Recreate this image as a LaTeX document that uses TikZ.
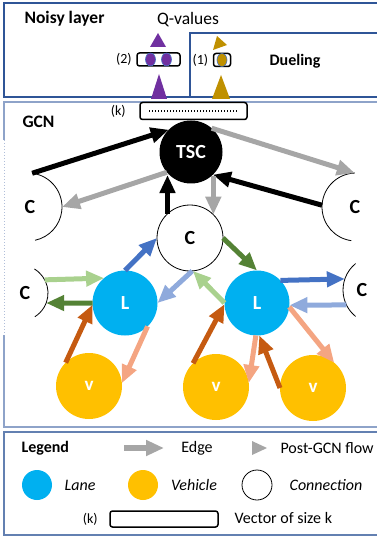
\documentclass[tikz,border=0pt]{standalone}
\usepackage{fontspec}
\setmainfont{Carlito}
\usepackage{tikz}
\usetikzlibrary{arrows.meta,calc,positioning}
\usepackage[dvipsnames]{xcolor}
\definecolor{frameblue}{HTML}{2F5597}
\definecolor{gcnblue}{HTML}{8EA3C9}
\definecolor{lanecol}{HTML}{00B0F0}
\definecolor{vehcol}{HTML}{FFC000}
\definecolor{edgegray}{HTML}{A6A6A6}
\definecolor{dblue}{HTML}{4472C4}
\definecolor{lblue}{HTML}{8FAADC}
\definecolor{dgreen}{HTML}{548235}
\definecolor{lgreen}{HTML}{A9D18E}
\definecolor{dorange}{HTML}{C55A11}
\definecolor{lorange}{HTML}{F4A582}
\definecolor{qpurple}{HTML}{7030A0}
\definecolor{qgold}{HTML}{BF9000}
\newcommand{\fsNode}{\fontsize{20}{22}\selectfont}
\newcommand{\fsBig}{\fontsize{17.5}{20}\selectfont}
\newcommand{\fsMid}{\fontsize{16}{19}\selectfont}
\newcommand{\fsSmall}{\fontsize{14}{16}\selectfont}

\begin{document}
\begin{tikzpicture}[x=1pt,y=-1pt,
    gnode/.style={circle,inner sep=0pt,outer sep=0pt,minimum size=65pt,font=\fsNode\bfseries},
    lane/.style={gnode,fill=lanecol,text=white},
    veh/.style={gnode,fill=vehcol,text=white,minimum size=66pt,font=\fontsize{19}{21}\selectfont\bfseries},
    conn/.style={gnode,draw,line width=0.8pt},
    part/.style={circle,inner sep=0pt,outer sep=0pt},
    ctext/.style={font=\fsNode\bfseries},
    flow/.style={line width=5pt,-{Triangle[length=18pt,width=15pt]}},
    vecbox/.style={draw,rounded corners=2.5pt,line width=1.5pt,inner sep=0pt},
    txt/.style={font=\fsMid}]

    \useasboundingbox (0,0) rectangle (376,537);

    % frames
    \draw[frameblue,line width=2pt] (4,3) rectangle (380,97);
    \draw[frameblue,line width=2pt] (190,33) rectangle (380,97);
    \draw[gcnblue,line width=2pt] (4,140) -- (4,102) -- (380,102);
    \draw[gcnblue,line width=2pt] (4,335) -- (4,427) -- (380,427);
    \draw[gcnblue!70,line width=1pt,dotted] (4,140) -- (4,335);
    \draw[frameblue!75,line width=1.5pt] (4,432) rectangle (380,535);

    \node[font=\fsBig\bfseries,anchor=west] (noisy) at (21,19) {Noisy layer};
    \node[font=\fsBig] (qval) at (188,20) {Q-values};
    \node[font=\fsMid\bfseries] (duel) at (295,61) {Dueling};
    \node[font=\fsBig\bfseries,anchor=west] (gcn) at (19,122) {GCN};

    % Q-value vectors
    \node[vecbox,minimum width=43pt,minimum height=13pt] (q2) at (158.5,59.5) {};
    \node[font=\fsSmall,left=1pt of q2] {(2)};
    \filldraw[fill=qpurple,draw=dblue,line width=0.6pt] (150.5,59.5) ellipse[x radius=5pt,y radius=6.5pt];
    \filldraw[fill=qpurple,draw=dblue,line width=0.6pt] (166.5,59.5) ellipse[x radius=5pt,y radius=6.5pt];
    \node[vecbox,minimum width=17pt,minimum height=13pt] (q1) at (222,60) {};
    \node[font=\fsSmall,left=1pt of q1] {(1)};
    \filldraw[fill=qgold,draw=dblue,line width=0.6pt] (q1) ellipse[x radius=5pt,y radius=6.5pt];

    \fill[qpurple] (150,47) -- (158,33) -- (166,47) -- cycle;
    \fill[qpurple] (151,99) -- (159,74) -- (167,99) -- cycle;
    \fill[qgold] (217,36) -- (227,45) -- (213,50) -- cycle;
    \fill[qgold] (212,99) -- (221,75) -- (230,99) -- cycle;

    % GCN nodes
    \node[vecbox,fill=white,minimum width=107pt,minimum height=17pt] (kvec) at (193.5,111) {};
    \draw[line width=1.2pt,dash pattern=on 1pt off 2pt] ([xshift=10pt]kvec.west) -- ([xshift=-10pt]kvec.east);
    \node[font=\fsSmall,left=10pt of kvec] {(k)};

    \node[gnode,fill=black,text=white,minimum size=63pt] (tsc) at (191,152) {TSC};
    \node[conn,minimum size=66pt] (cM) at (190,238) {C};
    \node[lane] (lL) at (125,303) {L};
    \node[lane] (lR) at (257,303) {L};
    \node[veh] (vL) at (89,386) {v};
    \node[veh] (vM) at (216,387) {v};
    \node[veh] (vR) at (313,388) {v};

    % cut-off connection nodes
    \node[part,minimum size=68pt] (cTL) at (28,207) {};
    \node[part,minimum size=68pt] (cTR) at (356,207) {};
    \node[part,minimum size=56pt] (cL) at (20,293) {};
    \node[part,minimum size=68pt] (cR) at (377,290) {};
    \draw[line width=0.8pt] (cTL.83) arc[start angle=83,end angle=-78,radius=34pt];
    \draw[line width=0.8pt] (cTR.92) arc[start angle=92,end angle=262,radius=34pt];
    \draw[line width=0.8pt] (cL.59) arc[start angle=59,end angle=-58,radius=28pt];
    \draw[line width=0.8pt] (cR.129) arc[start angle=129,end angle=231,radius=34pt];
    \node[ctext] at ([xshift=2pt]cTL.center) {C};
    \node[ctext] at ([xshift=-1pt]cTR.center) {C};
    \node[ctext] at ([xshift=5pt]cL.center) {C};
    \node[ctext] at ([xshift=-15pt]cR.center) {C};

    % edges
    \draw[flow] (cTL.83) -- (tsc.135);
    \draw[flow] (cTR.177) -- (tsc.-46);
    \draw[flow] (cM.133) -- (cM.133 |- tsc.-133);
    \draw[flow,edgegray] (tsc.49) -- (cTR.92);
    \draw[flow,edgegray] (tsc.-140) -- (cTL.0);
    \draw[flow,edgegray] (cM.45 |- tsc.-50) -- (cM.45);

    \foreach \s/\d/\c in {cM.0/lR.90/dgreen, lL.90/cM.180/dblue, cM.-86/lL.0/lblue,
        lR.180/cM.-85/lgreen, cL.28/lL.130/lgreen, lL.180/cL.-21/dgreen,
        lR.44/cR.161/dblue, cR.-154/lR.-4/lblue,
        vL.135/lL.-177/dorange, lL.-46/vL.5/lorange, vM.134/lR.-178/dorange,
        lR.-92/vM.7/lorange, vR.180/lR.-86/dorange, lR.-7/vR.50/lorange}{
        \draw[flow,\c] (\s) -- (\d);
    }

    % legend
    \node[font=\fsMid\bfseries,anchor=west] (leg) at (18,448) {Legend};
    \coordinate (edgeS) at (124,448);
    \coordinate (edgeE) at (164,448);
    \draw[flow,edgegray,line width=6pt] (edgeS) -- (edgeE);
    \node[txt] at (197,448) {Edge};
    \fill[edgegray] (252,441) -- (267,448) -- (252,455) -- cycle;
    \node[txt,anchor=west] at (277,448) {Post-GCN flow};
    \node[part,fill=lanecol,minimum size=30pt] (legL) at (37,485) {};
    \node[txt,font=\fsMid\itshape] at (80,485) {Lane};
    \node[part,fill=vehcol,minimum size=30pt] (legV) at (143,485) {};
    \node[txt,font=\fsMid\itshape] at (194,485) {Vehicle};
    \node[part,draw,line width=0.8pt,minimum size=30pt] (legC) at (257,485) {};
    \node[txt,font=\fsMid\itshape] at (326,485) {Connection};
    \node[vecbox,minimum width=108pt,minimum height=16pt] (legK) at (164,519) {};
    \node[font=\fsSmall,left=8pt of legK] {(k)};
    \node[txt,anchor=west] at (231,518) {Vector of size k};
\end{tikzpicture}
\end{document}
